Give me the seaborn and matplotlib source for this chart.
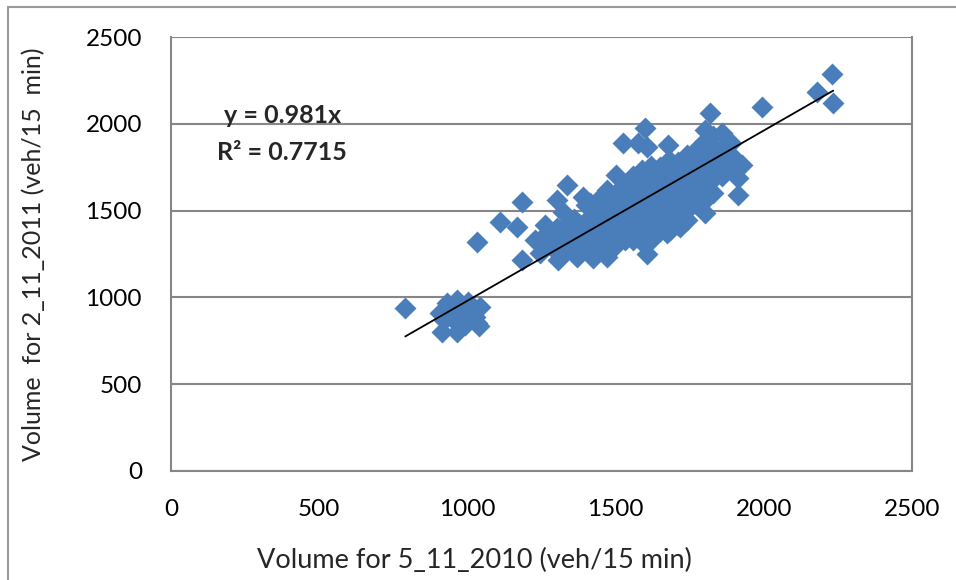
import matplotlib
matplotlib.use("Agg")
import matplotlib.pyplot as plt
import seaborn as sns
import numpy as np
import pandas as pd

# ---- data ----
low_x = [790, 914, 965, 1032, 1040, 931, 965, 1002, 1043, 908, 948, 985, 1025, 940, 970, 1000, 920, 960, 1010, 990]
low_y = [940, 800, 800, 852, 835, 968, 985, 973, 945, 910, 910, 899, 887, 940, 930, 950, 870, 860, 920, 840]

mid_x = [1031, 1110, 1166, 1183, 1183,
         1228, 1245, 1262, 1301, 1301, 1323, 1335, 1391, 1306, 1369, 1424, 1470,
         1280, 1300, 1320, 1340, 1350, 1370, 1380, 1390, 1400, 1410, 1420, 1260,
         1290, 1330, 1360, 1400, 1414, 1470]
mid_y = [1321, 1436, 1407, 1551, 1215,
         1330, 1255, 1417, 1398, 1561, 1494, 1647, 1580, 1215, 1234, 1226, 1234,
         1300, 1270, 1330, 1280, 1360, 1300, 1420, 1350, 1280, 1460, 1380, 1360,
         1350, 1410, 1450, 1530, 1543, 1618]

core_x = ([1440] * 6 + [1470] * 5 + [1500] * 7 + [1530] * 6 + [1560] * 7 + [1590] * 7 +
          [1620] * 8 + [1650] * 7 + [1680] * 7 + [1710] * 7 + [1740] * 7 + [1770] * 6 +
          [1800] * 7 + [1830] * 6 + [1860] * 4 + [1890] * 3)
core_y = ([1260, 1320, 1380, 1440, 1500, 1560] +
          [1292, 1350, 1410, 1470, 1530] +
          [1300, 1360, 1420, 1480, 1540, 1600, 1705] +
          [1330, 1390, 1450, 1510, 1570, 1640] +
          [1330, 1400, 1460, 1520, 1580, 1650, 1700] +
          [1360, 1420, 1480, 1540, 1600, 1660, 1734] +
          [1330, 1400, 1460, 1520, 1580, 1640, 1700, 1760] +
          [1380, 1440, 1500, 1560, 1620, 1680, 1750] +
          [1388, 1450, 1510, 1570, 1630, 1700, 1791] +
          [1420, 1480, 1540, 1600, 1660, 1720, 1780] +
          [1446, 1503, 1560, 1620, 1680, 1753, 1820] +
          [1540, 1600, 1660, 1720, 1790, 1850] +
          [1560, 1640, 1700, 1760, 1830, 1900, 1964] +
          [1600, 1680, 1750, 1810, 1870, 1930] +
          [1700, 1780, 1850, 1945] +
          [1750, 1820, 1887])

high_x = [1526, 1577, 1599, 1605, 1678, 1813, 1819, 1993, 1605, 1819, 1802, 1717, 1684,
          1914, 1914, 1925, 1582, 1672, 2180, 2234, 2230]
high_y = [1887, 1887, 1974, 1868, 1877, 1906, 2060, 2098, 1250, 1600, 1485, 1407, 1388,
          1590, 1687, 1762, 1330, 1369, 2183, 2120, 2290]

slope = 0.981
r2 = 0.7715

xticks = [0, 500, 1000, 1500, 2000, 2500]
yticks = [0, 500, 1000, 1500, 2000, 2500]

x_all = low_x + mid_x + core_x + high_x
y_all = low_y + mid_y + core_y + high_y
df = pd.DataFrame({"x": x_all, "y": y_all})

# ---- plot ----
sns.set_style("white")
plt.rcParams["font.family"] = ["Lato", "DejaVu Sans"]

fig = plt.figure(figsize=(9.56, 5.8), dpi=100)
ax = fig.add_axes([0.179, 0.188, 0.775, 0.748])

grid_c = "#868686"
for yv in yticks:
    ax.axhline(yv, color=grid_c, lw=1.5, zorder=0)

sns.scatterplot(data=df, x="x", y="y", marker="D", s=125, color="#4A7EBB",
                linewidth=0, ax=ax, zorder=2)

xl = np.array([df["x"].min(), df["x"].max()])
ax.plot(xl, slope * xl, color="black", lw=1.3, zorder=3)

ax.set_xlim(0, 2500)
ax.set_ylim(0, 2500)
ax.set_xticks(xticks)
ax.set_yticks(yticks)
ax.tick_params(axis="both", direction="out", length=5, width=1.2, color=grid_c,
               labelsize=17.5, labelcolor="black")
ax.tick_params(axis="x", pad=15)
ax.tick_params(axis="y", pad=16)

for side in ["left", "bottom", "right"]:
    ax.spines[side].set_visible(True)
    ax.spines[side].set_color(grid_c)
    ax.spines[side].set_linewidth(1.5)
ax.spines["top"].set_visible(False)

ax.set_xlabel("Volume for 5_11_2010 (veh/15 min)", fontsize=19.5)
ax.set_ylabel("Volume  for 2_11_2011 (veh/15  min)", fontsize=18)
ax.xaxis.set_label_coords(0.409, -0.178)
ax.yaxis.set_label_coords(-0.17, 0.5)

ax.text(375, 2051, f"y = {slope}x", ha="center", va="center", fontsize=18,
        fontweight="bold")
ax.text(375, 1837, f"R² = {r2}", ha="center", va="center", fontsize=18,
        fontweight="bold")

# outer chart border (left and top visible)
fig.add_artist(plt.Line2D([0.008, 0.008], [0.0, 0.988], color="#9a9a9a", lw=1.5))
fig.add_artist(plt.Line2D([0.008, 1.0], [0.988, 0.988], color="#9a9a9a", lw=1.5))

fig.savefig("out.png", dpi=100)
